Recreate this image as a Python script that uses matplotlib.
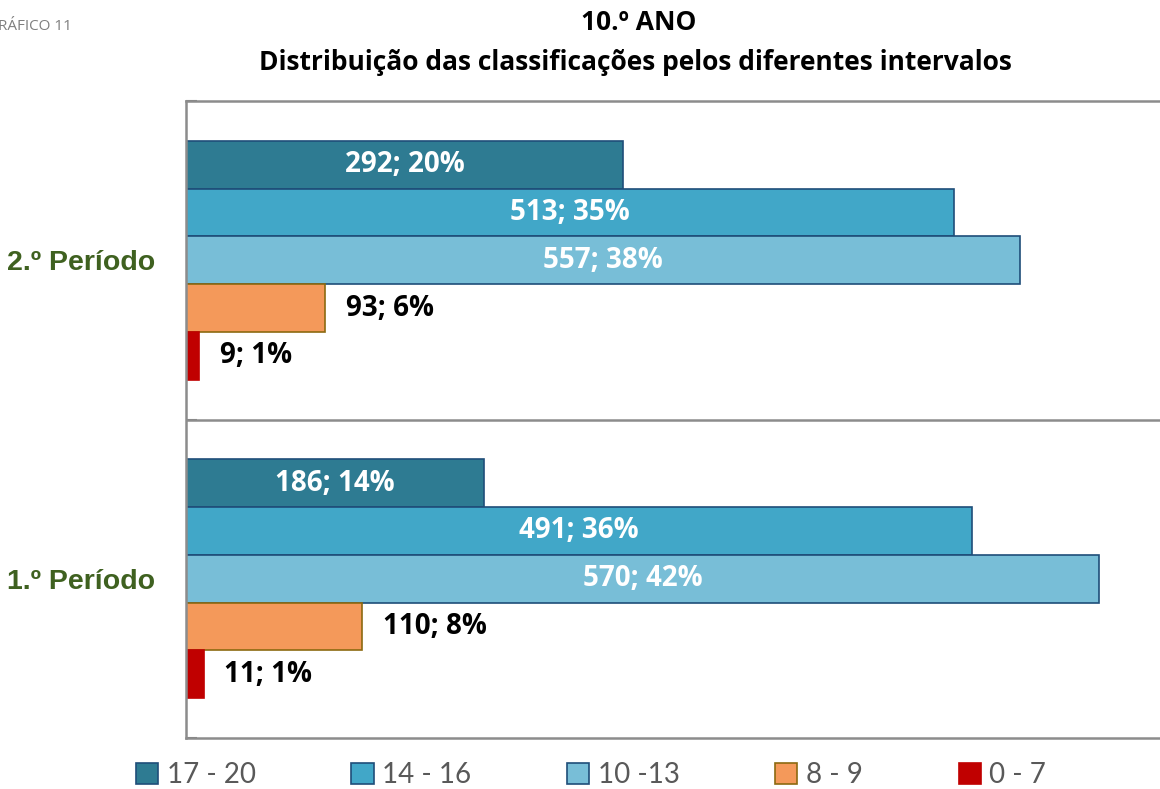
import numpy as np
import matplotlib
matplotlib.use('Agg')
from matplotlib import pyplot as plt

# data
periods = ['1.º Período', '2.º Período']
intervals = ['17 - 20', '14 - 16', '10 -13', '8 - 9', '0 - 7']
counts_p1 = [186, 491, 570, 110, 11]
counts_p2 = [292, 513, 557, 93, 9]
pct_p1 = [14, 36, 42, 8, 1]
pct_p2 = [20, 35, 38, 6, 1]

fills = ['#2E7B92', '#41A7C8', '#78BED7', '#F4995A', '#C00000']
edges = ['#1F4E79', '#1F4E79', '#1F4E79', '#8C6A10', '#C00000']
inside = [True, True, True, False, False]

plt.rcParams['font.family'] = ['Open Sans', 'DejaVu Sans']

fig = plt.figure(figsize=(11.6, 7.89), dpi=100)
ax = fig.add_axes([186/1160, 1-738/789, (1172-186)/1160, (738-101)/789])

counts = np.array([counts_p1, counts_p2])
pcts = np.array([pct_p1, pct_p2])
share = counts / counts.sum(axis=1, keepdims=True)

ypos = np.arange(len(periods))
h = 0.15
offsets = [0.3, 0.15, 0.0, -0.15, -0.3]

for i, lab in enumerate(intervals):
    bars = ax.barh(ypos + offsets[i], share[:, i], height=h, color=fills[i],
                   edgecolor=edges[i], linewidth=1.2, label=lab)
    for j, b in enumerate(bars):
        txt = '%d; %d%%' % (counts[j, i], pcts[j, i])
        yc = b.get_y() + b.get_height()/2
        if inside[i]:
            ax.text(b.get_width()/2, yc, txt, ha='center', va='center',
                    color='white', fontsize=20, fontweight='bold')
        else:
            ax.annotate(txt, (b.get_width(), yc), xytext=(15, 0),
                        textcoords='offset points', ha='left', va='center',
                        color='black', fontsize=20, fontweight='bold')

ax.set_xlim(0, 0.45)
ax.set_ylim(-0.5, 1.5)
ax.set_xticks([])
ax.set_yticks(ypos)
ax.set_yticklabels(periods, fontsize=20.5, fontweight='bold', color='#3F6120',
                   family=['Liberation Sans', 'DejaVu Sans'])
ax.tick_params(axis='y', which='major', length=0, pad=22)
ax.set_yticks([-0.5, 0.5, 1.5], minor=True)
ax.tick_params(axis='y', which='minor', direction='in', length=8, width=1.5,
               color='#7F7F7F')
ax.axhline(0.5, color='#8C8C8C', lw=1.8)
for s in ['top', 'bottom', 'left']:
    ax.spines[s].set_color('#8C8C8C')
    ax.spines[s].set_linewidth(1.8)
ax.spines['right'].set_visible(False)

fig.text(639/1160, 1-22/789, '10.º ANO', ha='center', va='center',
         fontsize=19, fontweight='bold')
fig.text(635/1160, 1-62/789,
         'Distribuição das classificações pelos diferentes intervalos',
         ha='center', va='center', fontsize=19, fontweight='bold')
fig.text(72/1160, 1-27/789, 'GRÁFICO 11', ha='right', va='center',
         fontsize=11, color='#7F7F7F')

leg = fig.legend(loc='center', bbox_to_anchor=(591/1160, 1-775/789), ncol=5,
                 frameon=False, handlelength=0.8, handleheight=0.8,
                 handletextpad=0.3, columnspacing=3.45,
                 prop={'family': ['Lato', 'DejaVu Sans'], 'size': 20})
for t in leg.get_texts():
    t.set_color('#595959')

fig.savefig('out.png', dpi=100)
